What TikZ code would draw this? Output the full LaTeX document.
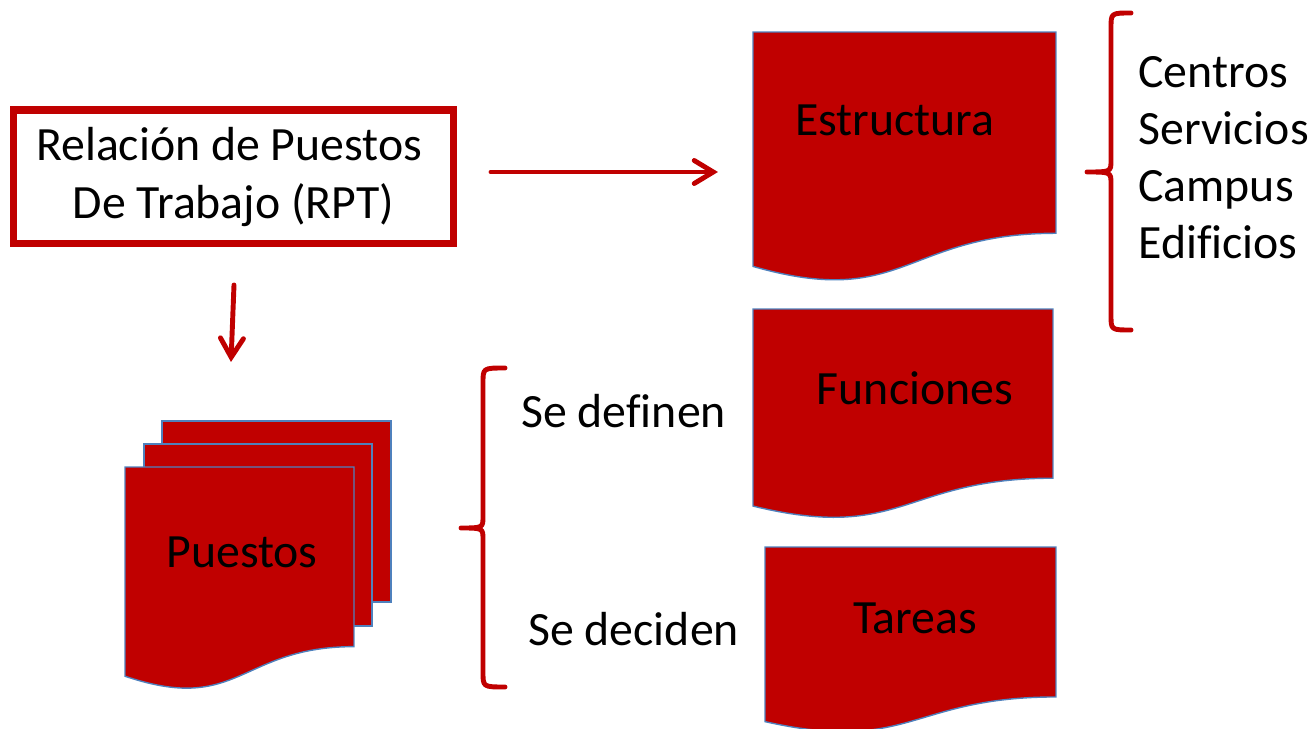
\documentclass[tikz,border=0pt]{standalone}
\usepackage{fontspec}
\setmainfont{Carlito}[Ligatures=CommonOff]
\usetikzlibrary{calc,arrows.meta}
\definecolor{docred}{HTML}{C00000}
\definecolor{docblue}{HTML}{4F81BD}
\tikzset{
  docbox/.style={inner sep=0pt,outer sep=0pt},
  docline/.style={fill=docred,draw=docblue,line width=0.8pt},
  txt/.style={font=\fontsize{27.2}{32.9}\selectfont,inner sep=0pt},
  arrow/.style={draw=docred,line width=2.8pt,line cap=round,
    -{Straight Barb[length=0.38cm,width=0.46cm,line cap=round]}},
  brace/.style={draw=docred,line width=2.8pt,line cap=round,line join=round},
}
\newcommand{\docdraw}[1]{%
  \filldraw[docline] (#1.north west) -- (#1.north east)
    -- ($(#1.north east)!.802!(#1.south east)$)
    .. controls ($(#1.north)!.802!(#1.south)$) and ($(#1.north)!1.1075!(#1.south)$)
    .. ($(#1.north west)!.934!(#1.south west)$) -- cycle;}

\begin{document}
\begin{tikzpicture}[x=0.02cm,y=-0.02cm]
\useasboundingbox (0,0) rectangle (1312,729);
\draw (233.5,177)
    node [draw=docred,line width=4pt,minimum width=8.82cm,minimum height=2.68cm,
      align=center,txt] (rpt) {Relación de Puestos\hspace*{5pt}\\ De Trabajo (RPT)};
\draw[arrow] ([shift={(33.5,-5)}]rpt.east) -- ++(227,0);
\draw[arrow] ([shift={(0.5,37.5)}]rpt.south) -- ++(-3,77);

\draw (904.5,157.5) node [docbox,minimum width=6.06cm,minimum height=5.02cm] (estr) {};
\docdraw{estr}
\node [txt,anchor=base] (estrtext) at (895,136) {Estructura};
\draw (903,414.5) node [docbox,minimum width=6cm,minimum height=4.22cm] (func) {};
\docdraw{func}
\node [txt,anchor=base] (functext) at (915,405) {Funciones};
\draw (910.5,640.5) node [docbox,minimum width=5.82cm,minimum height=3.74cm] (tar) {};
\docdraw{tar}
\node [txt,anchor=base] (tartext) at (915,633) {Tareas};

\draw (276.5,511.5) node [docbox,docline,minimum width=4.58cm,minimum height=3.62cm] (back) {};
\draw (258,535) node [docbox,docline,minimum width=4.56cm,minimum height=3.64cm] (middle) {};
\draw (239.5,579) node [docbox,minimum width=4.58cm,minimum height=4.48cm] (front) {};
\docdraw{front}
\node [txt,anchor=base] (puestos) at (242,567) {Puestos};

\draw[brace] (1131,13) .. controls (1111,13) .. (1111,28) -- (1111,160)
    .. controls (1111,172) .. (1087,172) .. controls (1111,172) .. (1111,184)
    -- (1111,315) .. controls (1111,330) .. (1131,330);
\node [txt,anchor=base west] (centros) at (1138,88) {Centros};
\node [txt,anchor=base west] (servicios) at (1138,145) {Servicios};
\node [txt,anchor=base west] (campus) at (1138,202) {Campus};
\node [txt,anchor=base west] (edificios) at (1138,259) {Edificios};

\draw[brace] (505,368) .. controls (483,368) .. (483,383) -- (483,516)
    .. controls (483,528) .. (461,528) .. controls (483,528) .. (483,540)
    -- (483,672) .. controls (483,687) .. (505,687);
\node [txt,anchor=base west] (definen) at (521,428) {Se definen};
\node [txt,anchor=base west] (deciden) at (528,645) {Se deciden};
\end{tikzpicture}
\end{document}
